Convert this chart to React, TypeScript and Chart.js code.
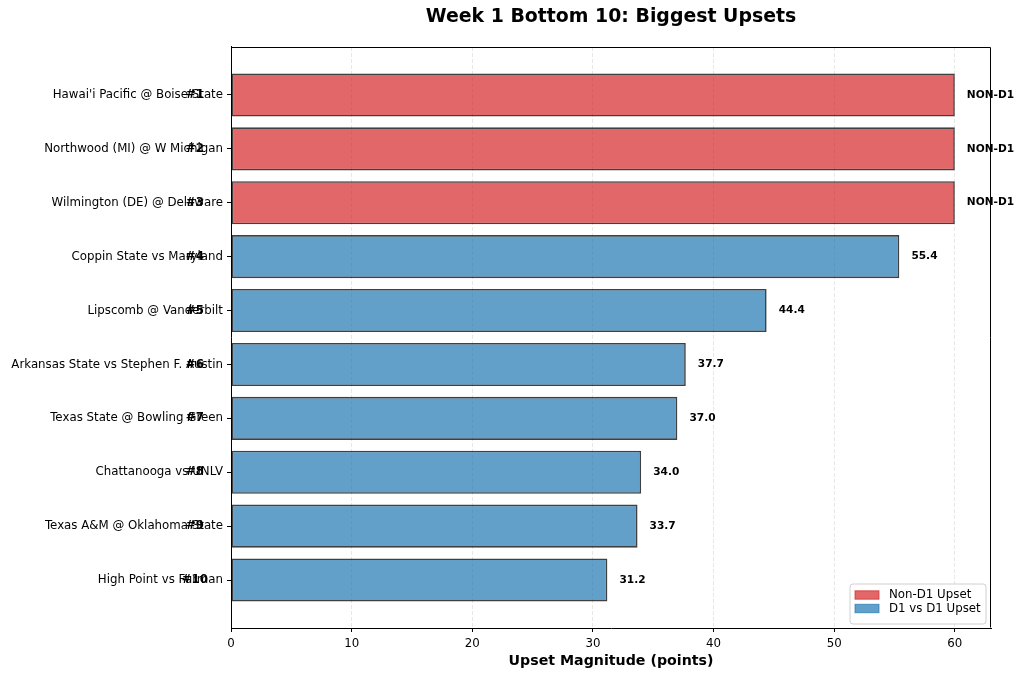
import React, { useEffect, useRef } from 'react';
import { Chart, registerables } from 'chart.js';

Chart.register(...registerables);

const games = [
  "Hawai'i Pacific @ Boise State",
  'Northwood (MI) @ W Michigan',
  'Wilmington (DE) @ Delaware',
  'Coppin State vs Maryland',
  'Lipscomb @ Vanderbilt',
  'Arkansas State vs Stephen F. Austin',
  'Texas State @ Bowling Green',
  'Chattanooga vs UNLV',
  'Texas A&M @ Oklahoma State',
  'High Point vs Furman',
];
const upsetMagnitude = [60, 60, 60, 55.4, 44.4, 37.7, 37.0, 34.0, 33.7, 31.2];
const upsetType = ['Non-D1', 'Non-D1', 'Non-D1', 'D1', 'D1', 'D1', 'D1', 'D1', 'D1', 'D1'];
const rankLabels = ['#1', '#2', '#3', '#4', '#5', '#6', '#7', '#8', '#9', '#10'];
const xTicks = [0, 10, 20, 30, 40, 50, 60];
const legendLabels = ['Non-D1 Upset', 'D1 vs D1 Upset'];
const titleText = 'Week 1 Bottom 10: Biggest Upsets';
const xAxisTitle = 'Upset Magnitude (points)';

const RED = 'rgba(214,39,40,0.7)';
const BLUE = 'rgba(31,119,180,0.7)';
const FONT = '"DejaVu Sans", sans-serif';

const colorFor = (t: string) => (t === 'Non-D1' ? RED : BLUE);
const valueText = (v: number, t: string) => (t === 'Non-D1' ? 'NON-D1' : v.toFixed(1));

const overlayPlugin = {
  id: 'overlay',
  afterDraw(chart: any) {
    const { ctx, chartArea: ca, scales } = chart;
    const x = scales.x;
    const y = scales.y;
    ctx.save();
    ctx.strokeStyle = '#000';
    ctx.lineWidth = 1;
    const l = Math.round(ca.left) + 0.5;
    const r = Math.round(ca.right) - 0.5;
    const t = Math.round(ca.top) + 0.5;
    const b = Math.round(ca.bottom) - 0.5;
    ctx.beginPath();
    ctx.moveTo(l, t);
    ctx.lineTo(r, t);
    ctx.lineTo(r, b);
    ctx.stroke();

    ctx.fillStyle = '#000';
    ctx.textBaseline = 'middle';
    ctx.textAlign = 'left';
    ctx.font = `bold 10.6px ${FONT}`;
    upsetMagnitude.forEach((v, i) => {
      ctx.fillText(valueText(v, upsetType[i]), x.getPixelForValue(v + 1), y.getPixelForValue(i));
    });

    ctx.textAlign = 'center';
    ctx.font = `bold 11.8px ${FONT}`;
    rankLabels.forEach((lab, i) => {
      ctx.fillText(lab, x.getPixelForValue(-3), y.getPixelForValue(i));
    });

    const lw = 136;
    const lh = 40;
    const lx = ca.right - 5 - lw;
    const ly = ca.bottom - 4 - lh;
    ctx.beginPath();
    const rad = 3;
    ctx.moveTo(lx + rad, ly);
    ctx.lineTo(lx + lw - rad, ly);
    ctx.quadraticCurveTo(lx + lw, ly, lx + lw, ly + rad);
    ctx.lineTo(lx + lw, ly + lh - rad);
    ctx.quadraticCurveTo(lx + lw, ly + lh, lx + lw - rad, ly + lh);
    ctx.lineTo(lx + rad, ly + lh);
    ctx.quadraticCurveTo(lx, ly + lh, lx, ly + lh - rad);
    ctx.lineTo(lx, ly + rad);
    ctx.quadraticCurveTo(lx, ly, lx + rad, ly);
    ctx.closePath();
    ctx.fillStyle = 'rgba(255,255,255,0.8)';
    ctx.fill();
    ctx.strokeStyle = '#d0d0d0';
    ctx.lineWidth = 1;
    ctx.stroke();

    const legendColors = [RED, BLUE];
    ctx.textAlign = 'left';
    ctx.font = `11.8px ${FONT}`;
    legendLabels.forEach((lab, i) => {
      const cy = ly + 11 + i * 13.5;
      ctx.fillStyle = legendColors[i];
      ctx.fillRect(lx + 5, cy - 4.2, 24, 8.4);
      ctx.strokeStyle = legendColors[i];
      ctx.lineWidth = 1;
      ctx.strokeRect(lx + 5, cy - 4.2, 24, 8.4);
      ctx.fillStyle = '#000';
      ctx.fillText(lab, lx + 39, cy);
    });
    ctx.restore();
  },
};

export default function App() {
  const ref = useRef<HTMLCanvasElement | null>(null);

  useEffect(() => {
    if (!ref.current) return;
    Chart.defaults.font.family = FONT;
    Chart.defaults.color = '#000';
    const chart = new Chart(ref.current, {
      type: 'bar',
      data: {
        datasets: [
          {
            data: upsetMagnitude.map((v, i) => ({ x: v, y: i })),
            backgroundColor: upsetType.map(colorFor),
            borderColor: 'rgba(0,0,0,0.75)',
            borderWidth: 1.6,
            borderSkipped: false,
            barPercentage: 0.8,
            categoryPercentage: 1,
          } as any,
        ],
      },
      options: {
        indexAxis: 'y',
        animation: false,
        responsive: false,
        layout: { padding: { left: 0, right: 33, top: 0, bottom: 0 } },
        plugins: {
          legend: { display: false },
          tooltip: { enabled: false },
          title: {
            display: true,
            text: titleText,
            fullSize: false,
            color: '#000',
            font: { size: 18.9, weight: 'bold', family: FONT },
            padding: { top: 6, bottom: 18.3 },
          } as any,
        },
        scales: {
          x: {
            type: 'linear',
            position: 'bottom',
            min: 0,
            max: 63,
            offset: false,
            afterBuildTicks: (s: any) => {
              s.ticks = xTicks.map((v) => ({ value: v }));
            },
            afterFit: (s: any) => {
              s.height = 50;
            },
            ticks: {
              font: { size: 11.8, family: FONT },
              color: '#000',
              padding: 5,
              maxRotation: 0,
              autoSkip: false,
            },
            grid: {
              offset: false,
              color: 'rgba(176,176,176,0.3)',
              lineWidth: 1,
              drawTicks: true,
              tickLength: 4,
              tickColor: '#000',
              tickWidth: 1,
              tickBorderDash: [],
            } as any,
            border: { display: true, color: '#000', width: 1, dash: [4, 2] },
            title: {
              display: true,
              text: xAxisTitle,
              color: '#000',
              font: { size: 14.2, weight: 'bold', family: FONT },
              padding: { top: 4, bottom: 8.5 },
            },
          },
          y: {
            type: 'linear',
            reverse: true,
            min: -0.89,
            max: 9.89,
            offset: false,
            afterBuildTicks: (s: any) => {
              s.ticks = games.map((_, i) => ({ value: i }));
            },
            afterFit: (s: any) => {
              s.width = 231;
            },
            ticks: {
              font: { size: 11.8, family: FONT },
              color: '#000',
              padding: 4,
              autoSkip: false,
              callback: (v: any) => games[Math.round(Number(v))] ?? '',
            },
            grid: {
              offset: false,
              drawOnChartArea: false,
              drawTicks: true,
              tickLength: 4,
              tickColor: '#000',
              tickWidth: 1,
            },
            border: { display: true, color: '#000', width: 1 },
          },
        },
      },
      plugins: [overlayPlugin],
    } as any);
    return () => chart.destroy();
  }, []);

  return (
    <div style={{ position: 'absolute', left: 0, top: 0, width: 1024, height: 678, background: '#fff' }}>
      <canvas ref={ref} width={1024} height={678} />
    </div>
  );
}
